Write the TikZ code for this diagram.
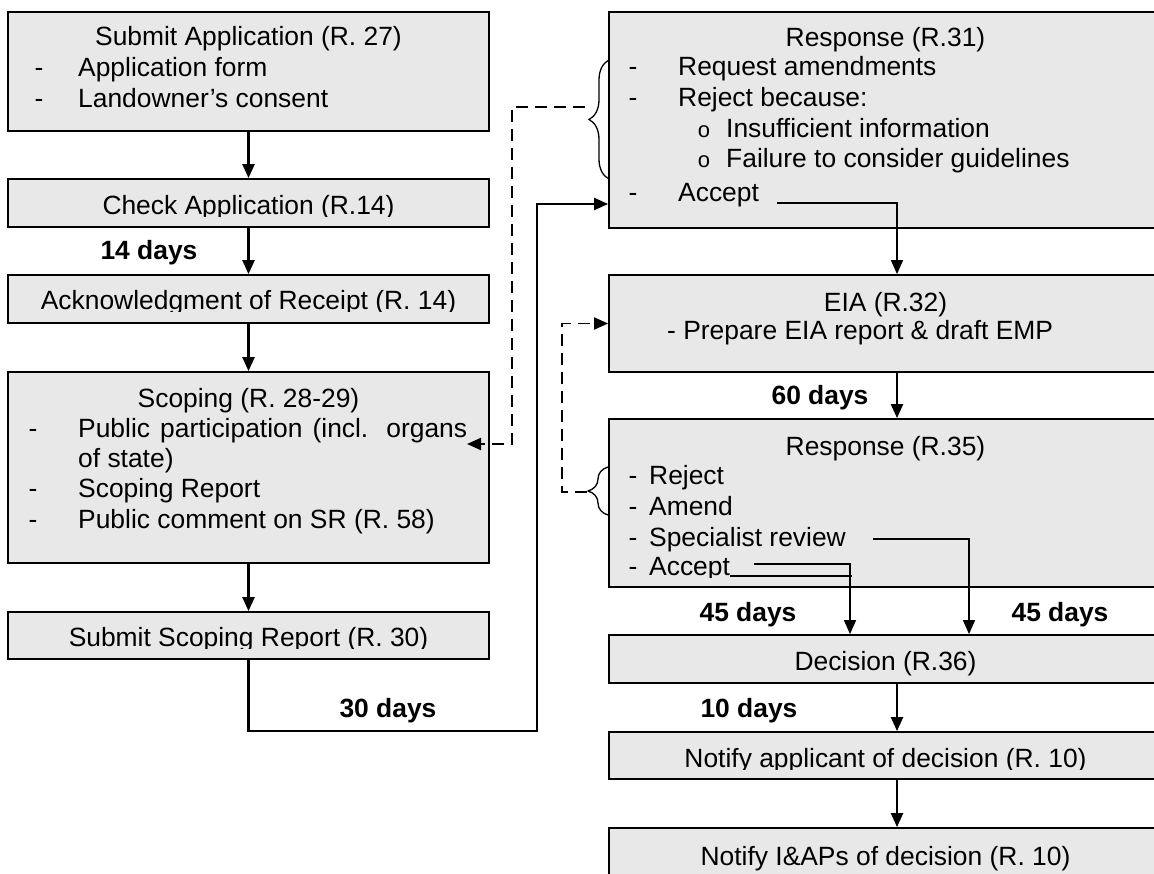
\documentclass[tikz,border=0pt]{standalone}
\usepackage{fontspec}
\setmainfont{Liberation Sans}
\usetikzlibrary{arrows.meta,decorations.pathreplacing,calc}
\definecolor{boxgray}{RGB}{232,232,232}
\begin{document}
\begin{tikzpicture}[x=1pt,y=-1pt,
  box/.style={draw=black, fill=boxgray, line width=1.8pt, inner sep=0pt, minimum width=#1pt},
  box/.default=481,
  txt/.style={inner sep=0pt, font=\fontsize{26.4}{30}\selectfont, anchor=base},
  lt/.style={txt, anchor=base west},
  days/.style={inner sep=0pt, anchor=base, font=\fontsize{26.4}{30}\selectfont\bfseries},
  smallo/.style={inner sep=0pt, anchor=base, font=\fontsize{22}{24}\selectfont},
  tip/.style={-{Triangle[length=14pt,width=12pt]}},
  arr/.style={line width=2.3pt, tip},
  thinarr/.style={line width=1.5pt, tip},
  thinln/.style={line width=1.5pt},
  dasharr/.style={line width=1.9pt, dash pattern=on 12pt off 7pt, tip},
  bracestyle/.style={line width=1.3pt, decorate, decoration={brace, amplitude=20pt}}
]
\useasboundingbox (0,0) rectangle (1154,874);
\clip (0,0) rectangle (1154,874);

% ---------- left column boxes ----------
\node[box, minimum height=119pt] (b1) at (248.5,71.5) {};
\node[box, minimum height=48pt]  (b2) at (248.5,203) {};
\node[box, minimum height=48pt]  (b3) at (248.5,299) {};
\node[box, minimum height=191pt] (b4) at (248.5,467.5) {};
\node[box, minimum height=47pt]  (b5) at (248.5,635.5) {};

% ---------- right column boxes ----------
\node[box=553, minimum height=216pt] (r31) at (885.5,120) {};
\node[box=553, minimum height=97pt]  (eia) at (885.5,323.5) {};
\node[box=553, minimum height=168pt] (r35) at (885.5,503) {};
\node[box=553, minimum height=48pt]  (dec) at (885.5,659) {};
\node[box=553, minimum height=47pt]  (n1)  at (885.5,755.5) {};
\node[box=553, minimum height=62pt]  (n2)  at (885.5,859) {};

% ---------- left texts ----------
\node[txt] (t1) at (248.5,46) {Submit Application (R. 27)};
\node[txt] (d1a) at (39,77) {-};
\node[lt] (t1a) at (78,77) {Application form};
\node[txt] (d1b) at (39,108) {-};
\node[lt] (t1b) at (78,108) {Landowner’s consent};
\begin{scope}
  \clip (8,180) rectangle (489,217);
  \node[txt] (t2) at (248.5,215) {Check Application (R.14)};
\end{scope}
\node[days] (l14) at (149,260) {14 days};
\begin{scope}
  \clip (8,276) rectangle (489,312);
  \node[txt] (t3) at (248.5,310) {Acknowledgment of Receipt (R. 14)};
\end{scope}
\node[txt] (t4) at (248.5,407) {Scoping (R. 28-29)};
\node[txt] (d4a) at (33,437) {-};
\node[lt] (t4a) at (78,437) {\makebox[389pt][s]{Public participation (incl. organs}};
\node[lt] (t4b) at (78,467) {of state)};
\node[txt] (d4c) at (33,497) {-};
\node[lt] (t4c) at (78,497) {Scoping Report};
\node[txt] (d4d) at (33,528) {-};
\node[lt] (t4d) at (78,528) {Public comment on SR (R. 58)};
\begin{scope}
  \clip (8,613) rectangle (489,648);
  \node[txt] (t5) at (248.5,646) {Submit Scoping Report (R. 30)};
\end{scope}
\node[days] (l30) at (388,717) {30 days};

% ---------- right texts ----------
\node[txt] (s1) at (885.5,47) {Response (R.31)};
\node[txt] (ds1a) at (633,76) {-};
\node[lt] (s1a) at (678,76) {Request amendments};
\node[txt] (ds1b) at (633,107) {-};
\node[lt] (s1b) at (678,107) {Reject because:};
\node[smallo] (o1) at (704,138) {o};
\node[lt] (s1c) at (726,138) {Insufficient information};
\node[smallo] (o2) at (704,168) {o};
\node[lt] (s1d) at (726,168) {Failure to consider guidelines};
\node[txt] (ds1e) at (633,202) {-};
\node[lt] (s1e) at (678,202) {Accept};

\node[txt] (s2) at (885.5,312) {EIA (R.32)};
\node[lt] (s2a) at (667,340) {- Prepare EIA report \& draft EMP};
\node[days] (l60) at (820,405) {60 days};

\node[txt] (s3) at (885.5,455) {Response (R.35)};
\node[txt] (ds3a) at (633,484) {-};
\node[lt] (s3a) at (649,484) {Reject};
\node[txt] (ds3b) at (633,515) {-};
\node[lt] (s3b) at (649,515) {Amend};
\node[txt] (ds3c) at (633,546) {-};
\node[lt] (s3c) at (649,546) {Specialist review};
\begin{scope}
  \clip (610,550) rectangle (1154,577);
  \node[txt] (ds3d) at (633,575) {-};
  \node[lt] (s3d) at (649,575) {Accept};
\end{scope}
\node[days] (l45a) at (748,621) {45 days};
\node[days] (l45b) at (1060,621) {45 days};

\node[txt] (s4) at (885.5,670) {Decision (R.36)};
\node[days] (l10) at (749,717) {10 days};
\begin{scope}
  \clip (610,733) rectangle (1154,769);
  \node[txt] (s5) at (885.5,767) {Notify applicant of decision (R. 10)};
\end{scope}
\node[txt] (s6) at (885.5,865) {Notify I\&APs of decision (R. 10)};

% ---------- solid connectors ----------
\draw[arr] (b1.south) -- (b2.north);
\draw[arr] (b2.south) -- (b3.north);
\draw[arr] (b3.south) -- (b4.north);
\draw[arr] (b4.south) -- (b5.north);

\coordinate (c30) at (537,731);
\draw[arr] (b5.south) |- (c30) |- ($(r31.west)+(0,84)$);

\coordinate (acc31) at (777,203);
\draw[thinarr] (acc31) -| ([xshift=11.5pt]eia.north);
\draw[arr] ([xshift=11.5pt]eia.south) -- ([xshift=11.5pt]r35.north);

\coordinate (spec) at (873,539);
\draw[thinarr] (spec) -| ([xshift=83.5pt]dec.north);
\coordinate (acc35a) at (754,564);
\draw[thinarr] (acc35a) -| ([xshift=-35.5pt]dec.north);
\coordinate (acc35b) at (730,576);
\coordinate (acc35c) at (852,576);
\draw[thinln] (acc35b) -- (acc35c);

\draw[arr] ([xshift=11.5pt]dec.south) -- ([xshift=11.5pt]n1.north);
\draw[arr] ([xshift=11.5pt]n1.south) -- ([xshift=11.5pt]n2.north);

% ---------- braces ----------
\coordinate (br31a) at (609,179);
\coordinate (br31b) at (609,60);
\draw[bracestyle] (br31a) -- (br31b);
\coordinate (br35a) at (608,515);
\coordinate (br35b) at (608,467);
\draw[bracestyle] (br35a) -- (br35b);

% ---------- dashed connectors ----------
\coordinate (t31) at (585,107);
\coordinate (turnA) at (512,444);
\coordinate (scin) at (467,444);
\draw[dasharr] (t31) -| (turnA) -- (scin);

\coordinate (t35) at (587,492);
\coordinate (turnB) at (562,492);
\draw[dasharr] (t35) -- (turnB) |- (eia.west);
\end{tikzpicture}
\end{document}
